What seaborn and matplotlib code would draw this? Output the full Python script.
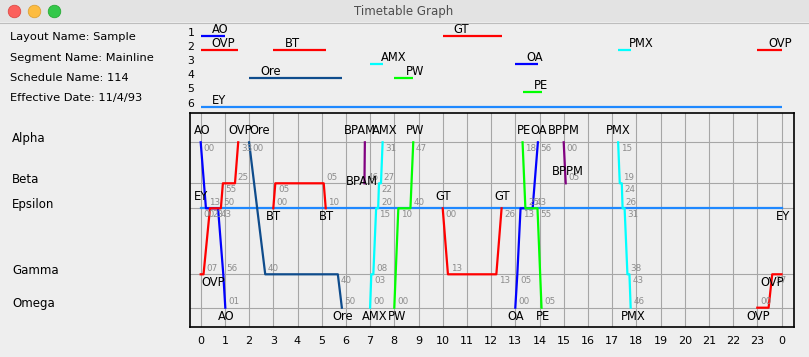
import matplotlib
matplotlib.use("Agg")
import matplotlib.pyplot as plt
from matplotlib.patches import Rectangle, Ellipse
from matplotlib.lines import Line2D
import numpy as np
import pandas as pd
import seaborn as sns

plt.rcParams['font.family'] = ['DejaVu Sans']

# stations, distance down the line
stations = ["Alpha", "Beta", "Epsilon", "Gamma", "Omega"]
station_km = [0, 41, 66, 132, 165.4]

header_lines = ["Layout Name: Sample", "Segment Name: Mainline",
                "Schedule Name: 114", "Effective Date: 11/4/93"]

# train stops: (station, arrive, depart)
EY = [("Epsilon", "0:00", "24:00")]
AO = [("Alpha", "0:00", "0:00"), ("Epsilon", "0:13", "0:43"), ("Gamma", "0:56", "0:56"), ("Omega", "1:01", "1:01")]
OVP = [("Omega", "23:00", "23:28"), ("Gamma", "23:37", "24:07"), ("Epsilon", "24:23", "24:50"),
       ("Beta", "24:55", "25:25"), ("Alpha", "25:33", "25:33")]
ORE = [("Alpha", "2:00", "2:00"), ("Gamma", "2:40", "5:40"), ("Omega", "5:50", "5:50")]
BT = [("Epsilon", "3:00", "3:00"), ("Beta", "3:05", "5:05"), ("Epsilon", "5:10", "5:10")]
BPAM = [("Beta", "6:46", "6:46"), ("Alpha", "6:47", "6:47")]
AMX = [("Omega", "7:00", "7:00"), ("Gamma", "7:03", "7:08"), ("Epsilon", "7:15", "7:20"),
       ("Beta", "7:22", "7:27"), ("Alpha", "7:31", "7:31")]
PW = [("Omega", "8:00", "8:00"), ("Epsilon", "8:10", "8:40"), ("Alpha", "8:47", "8:47")]
GT = [("Epsilon", "10:00", "10:00"), ("Gamma", "10:13", "12:13"), ("Epsilon", "12:26", "12:26")]
OA = [("Omega", "13:00", "13:00"), ("Gamma", "13:05", "13:05"), ("Epsilon", "13:13", "13:43"), ("Alpha", "13:56", "13:56")]
PE = [("Alpha", "13:18", "13:18"), ("Epsilon", "13:25", "13:55"), ("Omega", "14:05", "14:05")]
BPPM = [("Alpha", "15:00", "15:00"), ("Beta", "15:05", "15:05")]
PMX = [("Alpha", "17:15", "17:15"), ("Beta", "17:19", "17:24"), ("Epsilon", "17:26", "17:31"),
       ("Gamma", "17:38", "17:43"), ("Omega", "17:46", "17:46")]

train_names = ["EY", "AO", "OVP", "Ore", "BT", "BPAM", "AMX", "PW", "GT", "OA", "PE", "BPPM", "PMX"]
train_stops = [EY, AO, OVP, ORE, BT, BPAM, AMX, PW, GT, OA, PE, BPPM, PMX]
train_colors = ["#1e88ff", "#0000ff", "#ff0000", "#0f4c8c", "#ff0000", "#800080", "#00ffff",
                "#00ff00", "#ff0000", "#0000ff", "#00ff00", "#800080", "#00ffff"]
track_rows = [6, 1, 2, 4, 2, 0, 3, 4, 1, 3, 5, 0, 2]   # 0 = not on the track chart
silent_stops = [("BPAM", "Alpha")]

# train name tags on the graph
name_text = ["AO", "OVP", "Ore", "BPAM", "AMX", "PW", "PE", "OA", "BPPM", "PMX",
             "EY", "GT", "GT", "BT", "BT", "EY", "BPAM", "BPPM", "OVP", "OVP",
             "AO", "Ore", "AMX", "PW", "OA", "PE", "PMX", "OVP"]
name_time = [0.05, 1.62, 2.45, 6.58, 7.61, 8.85, 13.36, 13.98, 15.0, 17.26,
             0.0, 10.0, 12.45, 3.0, 5.2, 24.07, 6.65, 15.16, 0.52, 23.62,
             1.07, 5.88, 7.18, 8.1, 13.0, 14.13, 17.87, 23.02]
name_station = ["Alpha"] * 10 + ["Epsilon"] * 6 + ["Beta", "Beta", "Gamma", "Gamma"] + ["Omega"] * 8
name_side = ["above"] * 10 + ["above"] * 3 + ["below"] * 3 + ["on", "above"] + ["below"] * 10


def hours(s):
    h, m = s.split(":")
    return int(h) + int(m) / 60


km = dict(zip(stations, station_km))

# build line pieces (split at midnight)
rows = []
for name, stops in zip(train_names, train_stops):
    t = []
    y = []
    for st, a, d in stops:
        t += [hours(a), hours(d)]
        y += [km[st], km[st]]
    t = np.array(t)
    y = np.array(y)
    if t.max() > 24:
        y24 = np.interp(24, t, y)
        early = t <= 24
        pieces = [(np.r_[t[early], 24], np.r_[y[early], y24]),
                  (np.r_[0, t[~early] - 24], np.r_[y24, y[~early]])]
    else:
        pieces = [(t, y)]
    for i, (pt, py) in enumerate(pieces):
        for a, b in zip(pt, py):
            rows.append([name, f"{name}-{i}", a, b])
lines_df = pd.DataFrame(rows, columns=["train", "piece", "t", "km"])

W, H = 809, 357
fig = plt.figure(figsize=(W / 100, H / 100), dpi=100, facecolor="#eeeeee")

# window title bar
fig.patches.append(Rectangle((0, 1 - 22 / H), 1, 22 / H, transform=fig.transFigure,
                             facecolor="#e3e3e3", edgecolor="none"))
fig.add_artist(Line2D([0, 1], [1 - 22.5 / H] * 2, transform=fig.transFigure, color="#bdbdbd", lw=0.8))
for cx, fc, ec in zip([14.5, 34.5, 54.5], ["#fc605c", "#fdbc40", "#34c84a"],
                      ["#de4a45", "#dea236", "#27aa35"]):
    fig.patches.append(Ellipse((cx / W, 1 - 11.5 / H), 12.5 / W, 12.5 / H, transform=fig.transFigure,
                               facecolor=fc, edgecolor=ec, lw=0.6))
fig.text(404 / W, 1 - 11.5 / H, "Timetable Graph", ha="center", va="center", fontsize=8.5, color="#4d4d4d")

for i, line in enumerate(header_lines):
    fig.text(10 / W, 1 - (37.3 + 20.3 * i) / H, line, ha="left", va="center", fontsize=8.2, color="black")

x0, x1 = (190 - 200.7) / 24.2, (794 - 200.7) / 24.2

# main graph
ax = fig.add_axes([190 / W, 1 - 327 / H, 604 / W, 214 / H])
ax.set_facecolor("#eeeeee")
sns.lineplot(data=lines_df, x="t", y="km", hue="train", units="piece", estimator=None, sort=False,
             hue_order=train_names, palette=dict(zip(train_names, train_colors)),
             linewidth=1.6, legend=False, ax=ax)
ax.set_xlim(x0, x1)
ax.set_ylim(184.7, -29.3)
ax.set_xticks(range(25))
ax.set_xticklabels([str(h % 24) for h in range(25)])
ax.set_yticks(station_km)
ax.set_yticklabels([])
ax.tick_params(length=0)
ax.tick_params(axis="x", pad=6.5, labelsize=8)
ax.set_xlabel("")
ax.set_ylabel("")
ax.grid(True, color="#a6a6a6", lw=0.8)
ax.set_axisbelow(True)
for s in ax.spines.values():
    s.set_color("black")
    s.set_linewidth(1.2)

for st, y in zip(stations, station_km):
    ax.annotate(st, xy=(12 / W, y), xycoords=("figure fraction", "data"), xytext=(0, 3),
                textcoords="offset points", ha="left", va="center", fontsize=8.5)

# time labels (minutes)
for name, stops in zip(train_names, train_stops):
    ys = [km[s] for s, _, _ in stops]
    n = len(stops)
    for i, (st, arr, dep) in enumerate(stops):
        if (name, st) in silent_stops:
            continue
        y = km[st]
        if n == 1:
            marks = [(arr, "below")]
        elif i == 0:
            marks = [(arr, "below" if ys[1] > y else "above")]
        else:
            came = "above" if ys[i - 1] < y else "below"
            marks = [(arr, came)]
            if i < n - 1 and dep != arr:
                marks.append((dep, "below" if came == "above" else "above"))
        for tm, side in marks:
            x = hours(tm)
            if x >= 24:
                x -= 24
            up = side == "above"
            ax.annotate(tm.split(":")[1], (x, y), xytext=(2, 1 if up else -1), textcoords="offset points",
                        ha="left", va="bottom" if up else "top", fontsize=6.3, color="#8c8c8c")

# train names
for txt, tm, st, side in zip(name_text, name_time, name_station, name_side):
    dy = {"above": 3.5, "below": -1.3, "on": 1.2}[side]
    va = {"above": "bottom", "below": "top", "on": "center"}[side]
    ax.annotate(txt, (tm, km[st]), xytext=(0, dy), textcoords="offset points",
                ha="center", va=va, fontsize=8.3, color="black")

# track occupancy chart
ax_top = fig.add_axes([190 / W, 1 - 112 / H, 604 / W, 88 / H])
ax_top.set_xlim(x0, x1)
ax_top.set_ylim(6.39, 0.149)
ax_top.axis("off")
for r in range(1, 7):
    ax_top.text(-0.27, r, str(r), ha="right", va="baseline", fontsize=7.8)
for name, stops, color, row in zip(train_names, train_stops, train_colors, track_rows):
    if row == 0:
        continue
    a, b = hours(stops[0][1]), hours(stops[-1][2])
    spans = [(a, min(b, 24))]
    if b > 24:
        spans.append((0, b - 24))
    for s, e in spans:
        ax_top.hlines(row, s, e, color=color, lw=1.6)
        ax_top.annotate(name, (s, row), xytext=(8, 0), textcoords="offset points",
                        ha="left", va="bottom", fontsize=8.3)

fig.savefig("out.png", dpi=100, facecolor=fig.get_facecolor())
